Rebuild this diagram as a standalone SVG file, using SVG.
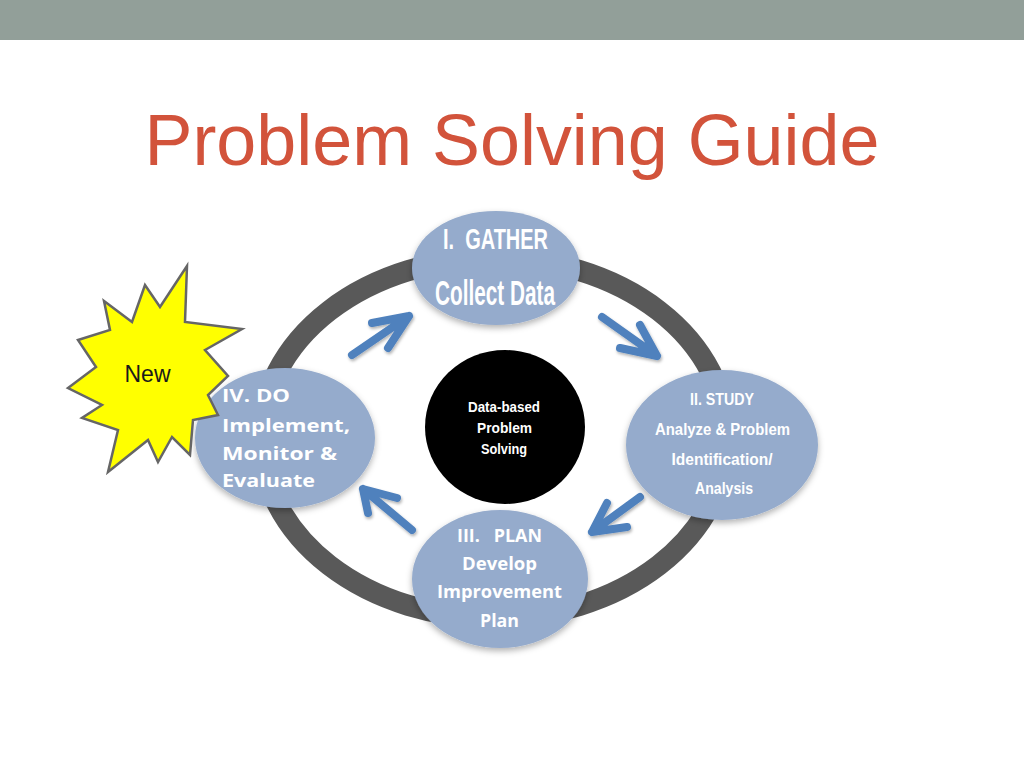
<svg xmlns="http://www.w3.org/2000/svg" width="1024" height="768" viewBox="0 0 1024 768">
<defs>
<style>
.node{fill:#95ABCC;filter:url(#sh);}
.cond{font-family:"Liberation Sans Narrow","Liberation Sans",sans-serif;font-weight:bold;fill:#FFFFFF;text-anchor:middle;}
.wide{font-family:"Open Sans","DejaVu Sans",sans-serif;font-weight:bold;fill:#FFFFFF;}
.arr{fill:none;stroke:#4F81BD;stroke-width:8;stroke-linecap:round;stroke-linejoin:round;filter:url(#ash);}
</style>
<filter id="sh" x="-20%" y="-20%" width="140%" height="150%">
<feDropShadow dx="0" dy="3" stdDeviation="3" flood-color="#000" flood-opacity="0.3"/>
</filter>
<filter id="ash" x="-30%" y="-30%" width="160%" height="160%">
<feDropShadow dx="1" dy="2" stdDeviation="1.5" flood-color="#000" flood-opacity="0.3"/>
</filter>
</defs>
<rect x="0" y="0" width="1024" height="768" fill="#FFFFFF"/>
<rect x="0" y="0" width="1024" height="40" fill="#929F99"/>
<text x="512" y="165" font-family="'Liberation Sans',Arial,sans-serif" font-size="73" fill="#D2533B" text-anchor="middle" textLength="735" lengthAdjust="spacingAndGlyphs">Problem Solving Guide</text>

<ellipse id="ring" cx="494" cy="438" rx="233" ry="180" fill="none" stroke="#595959" stroke-width="21"/>

<g id="center">
<ellipse cx="505" cy="427" rx="80" ry="77" fill="#000000"/>
<text class="cond" font-size="14" x="504" y="412" textLength="72" lengthAdjust="spacingAndGlyphs">Data-based</text>
<text class="cond" font-size="14" x="504.5" y="433" textLength="55" lengthAdjust="spacingAndGlyphs">Problem</text>
<text class="cond" font-size="14" x="504" y="454" textLength="46" lengthAdjust="spacingAndGlyphs">Solving</text>
</g>

<g id="connectors">
<path class="arr" d="M352,355 L409,316 M372,323 L409,316 L388,348"/>
<path class="arr" d="M602,317 L657,356 M620,348 L657,356 L640,325"/>
<path class="arr" d="M640,497 L592,532 M607,503 L592,532 L627,527"/>
<path class="arr" d="M412,530 L363,489 M368,513 L363,489 L397,498"/>
</g>

<g id="gather">
<ellipse class="node" cx="496" cy="268" rx="84" ry="57"/>
<text class="cond" font-size="29" x="495.5" y="249" textLength="105" lengthAdjust="spacingAndGlyphs" xml:space="preserve">I.  GATHER</text>
<text class="cond" font-size="35" x="495" y="305" textLength="120" lengthAdjust="spacingAndGlyphs">Collect Data</text>
</g>

<g id="study">
<ellipse class="node" cx="722" cy="445" rx="96" ry="75"/>
<text class="cond" font-size="17" x="722" y="405" textLength="64" lengthAdjust="spacingAndGlyphs">II. STUDY</text>
<text class="cond" font-size="17" x="722.5" y="435" textLength="135" lengthAdjust="spacingAndGlyphs">Analyze &amp; Problem</text>
<text class="cond" font-size="17" x="722" y="465" textLength="101" lengthAdjust="spacingAndGlyphs">Identification/</text>
<text class="cond" font-size="17" x="724" y="494" textLength="58" lengthAdjust="spacingAndGlyphs">Analysis</text>
</g>

<g id="plan">
<ellipse class="node" cx="500" cy="579" rx="88" ry="69"/>
<text class="wide" font-size="17.5" x="499.5" y="542" text-anchor="middle" textLength="85" lengthAdjust="spacingAndGlyphs" xml:space="preserve">III.   PLAN</text>
<text class="wide" font-size="17.5" x="499.5" y="570" text-anchor="middle" textLength="75" lengthAdjust="spacingAndGlyphs">Develop</text>
<text class="wide" font-size="17.5" x="499.5" y="598" text-anchor="middle" textLength="125" lengthAdjust="spacingAndGlyphs">Improvement</text>
<text class="wide" font-size="17.5" x="499.5" y="627" text-anchor="middle" textLength="39" lengthAdjust="spacingAndGlyphs">Plan</text>
</g>

<g id="do">
<ellipse class="node" cx="285" cy="438" rx="90" ry="70"/>
<text class="wide" font-size="17" x="222" y="402" textLength="68" lengthAdjust="spacingAndGlyphs">IV. DO</text>
<text class="wide" font-size="17" x="222" y="432" textLength="128" lengthAdjust="spacingAndGlyphs">Implement,</text>
<text class="wide" font-size="17" x="222" y="460" textLength="115" lengthAdjust="spacingAndGlyphs">Monitor &amp;</text>
<text class="wide" font-size="17" x="222" y="487" textLength="93" lengthAdjust="spacingAndGlyphs">Evaluate</text>
</g>

<g id="new">
<polygon points="104,301 132,322 145,285 160,307 187,266 185,322 242,329 205,350 228,376 208,395 218,415 193,420 190,455 172,437 158,462 148,440 108,472 118,430 82,418 102,405 68,388 96,367 78,340 110,330" fill="#FFFF00" stroke="#666666" stroke-width="2.5" stroke-linejoin="miter"/>
<text x="147.5" y="382" font-family="'Liberation Sans',Arial,sans-serif" font-size="23" fill="#1A1A1A" text-anchor="middle">New</text>
</g>
</svg>
